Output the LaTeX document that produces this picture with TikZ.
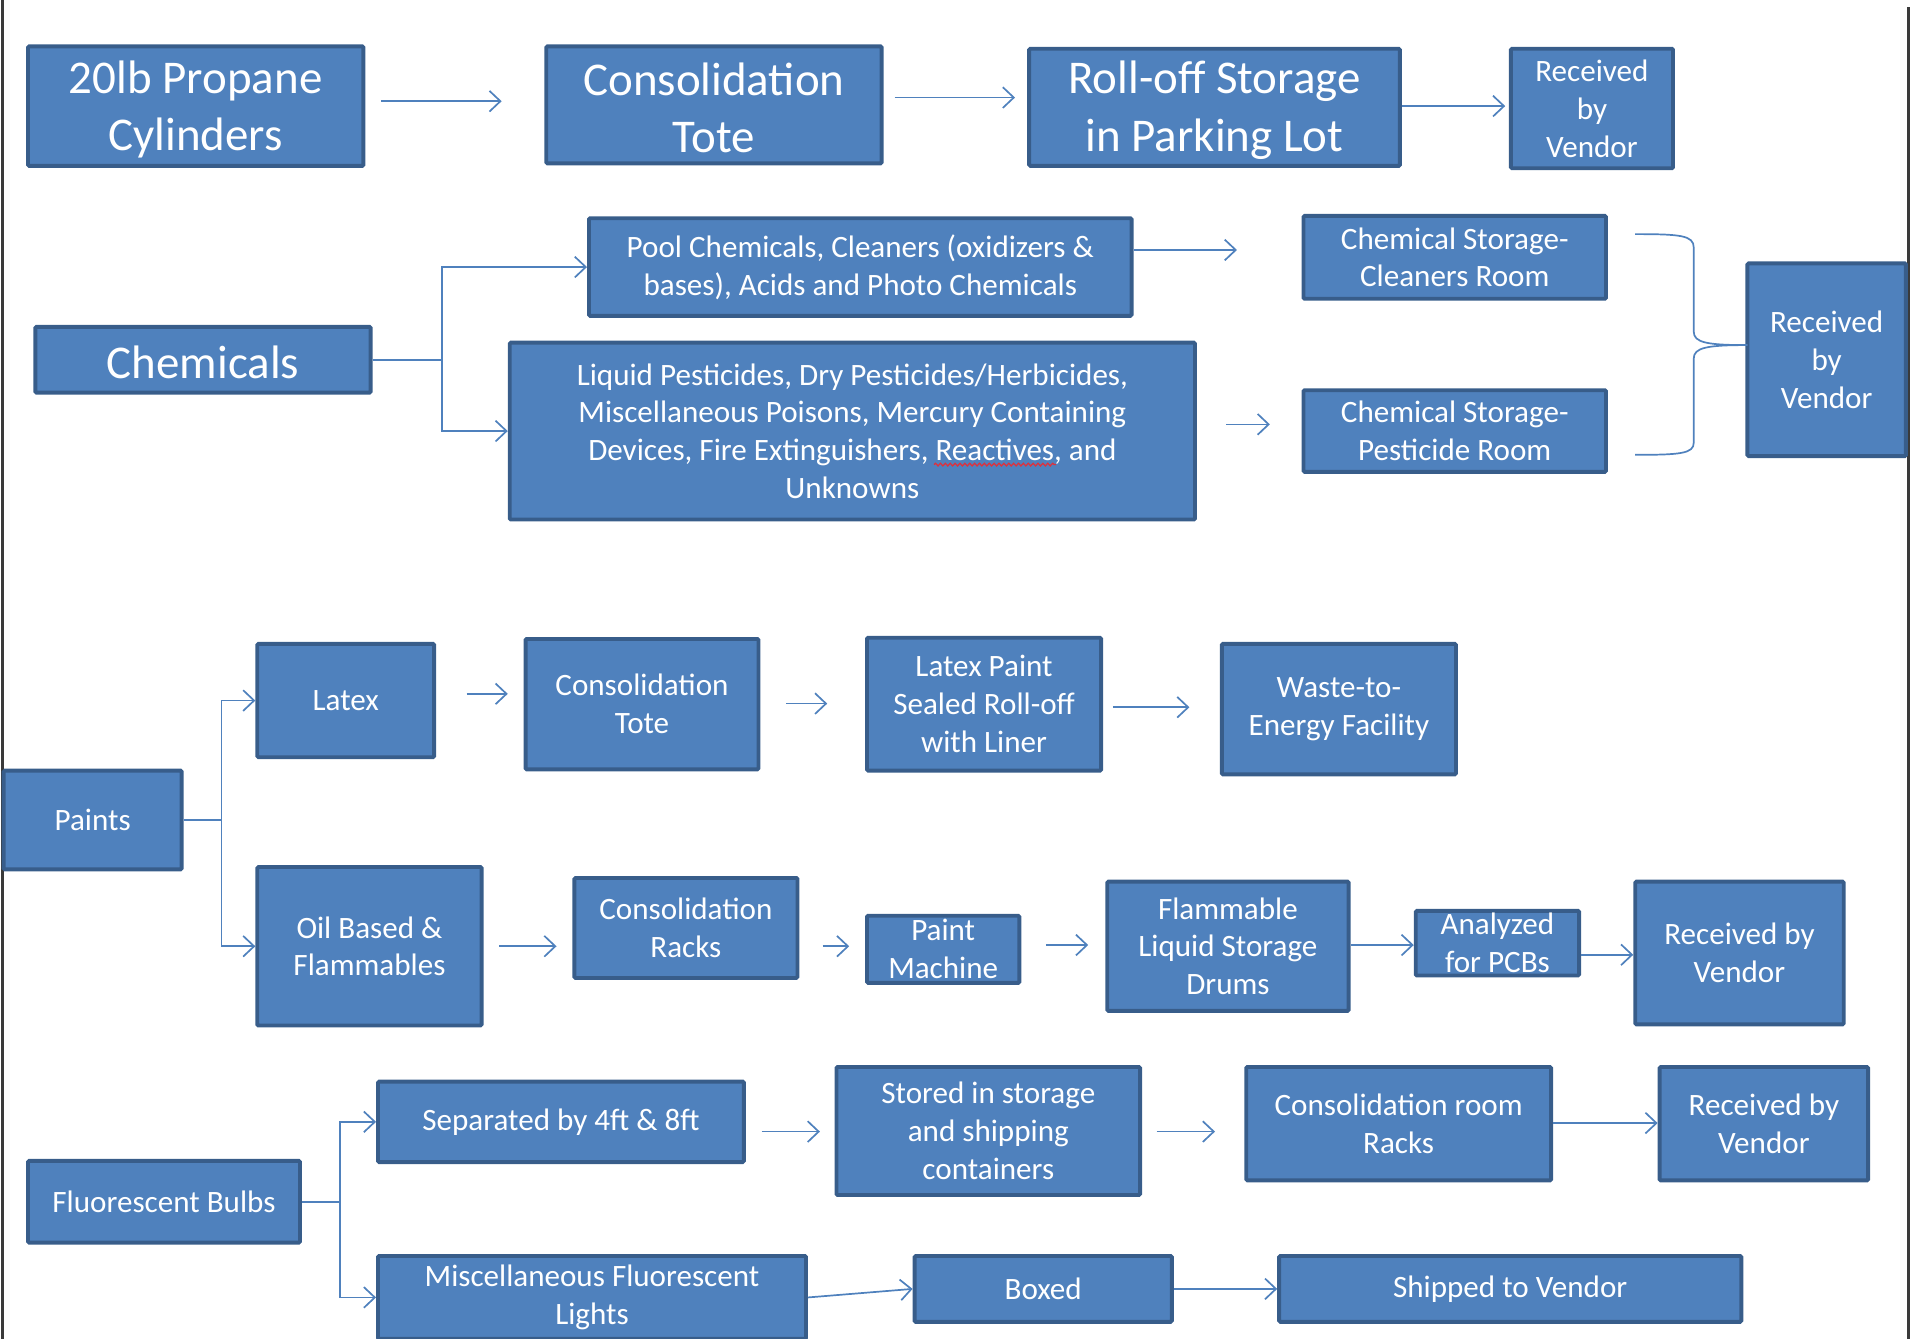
\documentclass[tikz,border=0pt]{standalone}
\usepackage{fontspec}
\setmainfont{Carlito}
\usetikzlibrary{arrows.meta,fit,decorations.pathmorphing}
\definecolor{bfill}{HTML}{4F81BD}
\definecolor{bdraw}{HTML}{385D8A}
\definecolor{frame}{HTML}{3A3A3A}
\definecolor{squig}{HTML}{E0303A}
\tikzset{
  box/.style={draw=bdraw, fill=bfill, line width=3.2pt, rounded corners=1pt, inner sep=0pt},
  lbl/.style={text=white, align=center, font=\fontsize{25.5}{31}\selectfont, inner sep=0pt},
  big/.style={font=\fontsize{38.5}{47}\selectfont, yshift=-2.5pt},
  conn/.style={draw=bfill, line width=1.4pt, -{Straight Barb[length=9pt,width=17pt,line width=1.4pt]}},
  plain/.style={draw=bfill, line width=1.4pt},
  edge/.style={draw=frame, line width=2.5pt},
  spell/.style={draw=squig, line width=1pt, decorate, decoration={snake, amplitude=1.1pt, segment length=4pt}},
}
\newcommand\bx[7][]{%
  \node[box, fit={(#3,#4)(#5,#6)}] (#2) {};
  \node[lbl,#1] (#2-t) at (#2.center) {#7};}
\newcommand\harr[5]{% from, to, y, shorten<, shorten>
  \draw[conn, shorten <=#4pt, shorten >=#5pt] (#1.east|-{(0,#3)}) -- (#2.west|-{(0,#3)});}

\begin{document}
\begin{tikzpicture}[x=1pt,y=-1pt]
\useasboundingbox (0,0) rectangle (1568,1098);
\coordinate (fl-top) at (2,0);
\coordinate (fl-bot) at (2,1098);
\coordinate (fr-top) at (1565,6);
\coordinate (fr-bot) at (1565,1098);
\draw[edge] (fl-top) -- (fl-bot);
\draw[edge] (fr-top) -- (fr-bot);

% Row 1
\bx[big]{p1}{23}{38}{298}{136}{20lb Propane\\Cylinders}
\bx[big]{p2}{448}{38}{723}{134}{Consolidation\\Tote}
\bx[big]{p3}{844}{40}{1148}{136}{Roll-off Storage\\in Parking Lot}
\bx{p4}{1239}{40}{1372}{138}{Received\\by\\Vendor}
\harr{p1}{p2}{83}{13}{35}
\harr{p2}{p3}{80}{9}{10}
\harr{p3}{p4}{87}{0}{3}

% Chemicals
\bx[big]{chem}{29}{268}{304}{322}{Chemicals}
\bx{pool}{483}{179}{928}{259}{Pool Chemicals, Cleaners (oxidizers \&\\bases), Acids and Photo Chemicals}
\bx{liq}{418}{281}{980}{426}{Liquid Pesticides, Dry Pesticides/Herbicides,\\Miscellaneous Poisons, Mercury Containing\\Devices, Fire Extinguishers, Reactives, and\\Unknowns}
\coordinate (sq-a) at (766,381);
\coordinate (sq-b) at (866,381);
\draw[spell] (sq-a) -- (sq-b);
\bx{cs1}{1069}{177}{1317}{245}{Chemical Storage-\\Cleaners Room}
\bx{cs2}{1069}{320}{1317}{387}{Chemical Storage-\\Pesticide Room}
\bx{rv2}{1433}{216}{1563}{374}{Received\\by\\Vendor}
\draw[conn] (chem.east) -- ++(57,0) |- (pool.west);
\draw[conn] (chem.east) -- ++(57,0) |- (liq.west);
\harr{pool}{cs1}{205}{0}{53}
\harr{liq}{cs2}{348}{24}{26}
\coordinate (br-a) at (1341,192);
\coordinate (br-b) at (1341,373);
\coordinate (br-tip) at (1433,283);
\draw[plain] (br-a) .. controls (1378,192) and (1389,193) .. (1389,203) -- (1389,272)
  .. controls (1389,281) and (1400,283) .. (br-tip);
\draw[plain] (br-b) .. controls (1378,373) and (1389,372) .. (1389,363) -- (1389,294)
  .. controls (1389,285) and (1400,283) .. (br-tip);

% Paints
\bx{paints}{3}{632}{149}{713}{Paints}
\bx{latex}{211}{528}{356}{621}{Latex}
\bx{ct}{431}{524}{622}{631}{Consolidation\\Tote}
\bx{lp}{711}{523}{903}{632}{Latex Paint\\Sealed Roll-off\\with Liner}
\bx{wte}{1002}{528}{1194}{635}{Waste-to-\\Energy Facility}
\bx{oil}{211}{711}{395}{841}{Oil Based \&\\Flammables}
\bx{cr}{471}{720}{654}{802}{Consolidation\\Racks}
\bx{pm}{711}{751}{836}{806}{Paint\\Machine}
\bx{fl}{908}{723}{1106}{829}{Flammable\\Liquid Storage\\Drums}
\bx{an}{1161}{747}{1295}{800}{Analyzed\\for PCBs}
\bx{rv3}{1341}{723}{1512}{840}{Received by\\Vendor}
\draw[conn] (paints.east) -- ++(31,0) |- (latex.west);
\draw[conn] (paints.east) -- ++(31,0) |- (oil.west);
\harr{latex}{ct}{569}{25}{13}
\harr{ct}{lp}{577}{21}{31}
\harr{lp}{wte}{580}{8}{25}
\harr{oil}{cr}{776}{13}{13}
\harr{cr}{pm}{776}{19}{13}
\harr{pm}{fl}{775}{20}{14}
\harr{fl}{an}{775}{0}{0}
\harr{an}{rv3}{783}{0}{0}

% Fluorescent
\bx{fb}{23}{952}{246}{1019}{Fluorescent Bulbs}
\bx{sep}{310}{887}{610}{953}{Separated by 4ft \& 8ft}
\bx{st}{686}{875}{935}{980}{Stored in storage\\and shipping\\containers}
\bx{crr}{1022}{875}{1272}{968}{Consolidation room\\Racks}
\bx{rv4}{1361}{875}{1532}{968}{Received by\\Vendor}
\bx{misc}{310}{1030}{661}{1098}{Miscellaneous Fluorescent\\Lights}
\bx{boxed}{750}{1030}{961}{1084}{Boxed}
\bx{ship}{1049}{1030}{1428}{1084}{Shipped to Vendor}
\draw[conn] (fb.east) -- ++(31,0) |- (sep.west);
\draw[conn] (fb.east) -- ++(31,0) |- (misc.west);
\harr{sep}{st}{928}{13}{12}
\harr{st}{crr}{928}{12}{24}
\harr{crr}{rv4}{921}{0}{0}
\draw[conn] (misc.east) -- (boxed.west);
\draw[conn] (boxed.east) -- (ship.west);
\end{tikzpicture}
\end{document}
